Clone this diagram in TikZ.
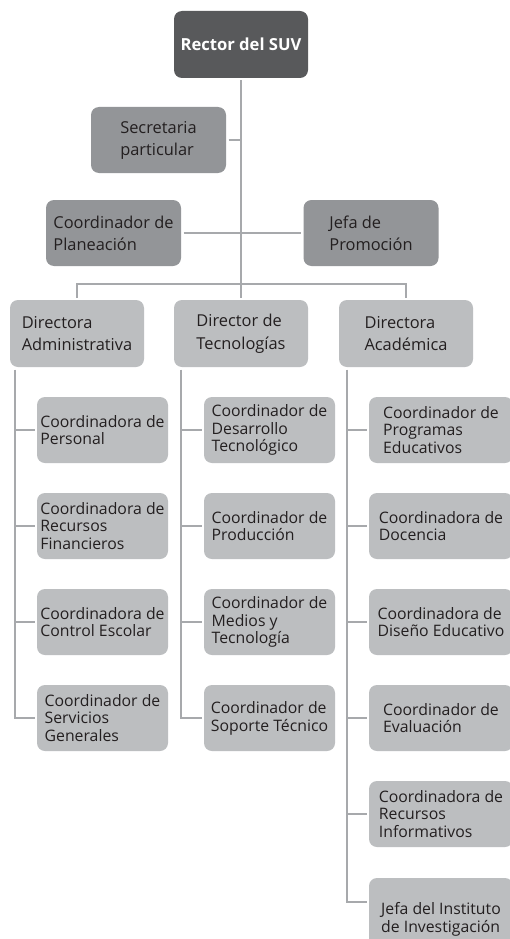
\documentclass[tikz,border=0pt]{standalone}
\usepackage{fontspec}
\setmainfont{Open Sans}
\definecolor{rectorc}{HTML}{58595B}
\definecolor{midc}{HTML}{939598}
\definecolor{lightc}{HTML}{BCBEC0}
\definecolor{linec}{HTML}{A7A9AC}
\definecolor{txtc}{HTML}{231F20}
\begin{document}
\begin{tikzpicture}[x=1pt,y=-1pt,
  box/.style={rounded corners=8pt, inner sep=0pt, outer sep=2.5pt, align=left, text=txtc},
  topbox/.style={box, fill=midc, minimum width=135pt, minimum height=66pt, font=\fontsize{16.4}{22}\selectfont},
  dirbox/.style={box, fill=lightc, minimum width=134pt, minimum height=67pt, font=\fontsize{16.4}{22.5}\selectfont},
  subbox/.style={box, fill=lightc, minimum width=131pt, minimum height=66pt, font=\fontsize{15.8}{17.8}\selectfont},
  acbox/.style={subbox, minimum width=144pt},
  conn/.style={draw=linec, line width=2pt}]
\useasboundingbox (0,0) rectangle (510,939);
\clip (0,0) rectangle (510,939);
\fill[white] (0,0) rectangle (510,939);
% top
\node[box, fill=rectorc, text=white, minimum width=134pt, minimum height=67pt, font=\fontsize{16.6}{19}\selectfont\bfseries] (rector) at (241,44.5) {Rector del SUV};
\node[topbox] (secre) at (158.5,140) {Secretaria\\particular};
\node[topbox] (plan) at (113.5,233) {Coordinador de\\Planeación};
\node[topbox] (promo) at (371,233) {Jefa de\\Promoción};
% directors
\node[dirbox] (adm) at (77,333.5) {Directora\\Administrativa};
\node[dirbox] (tec) at (241,333.5) {Director de\\Tecnologías};
\node[dirbox] (aca) at (406,333.5) {Directora\\Académica};
% admin column
\node[subbox] (a1) at (102.5,430) {Coordinadora de\\Personal};
\node[subbox] (a2) at (102.5,526) {Coordinadora de\\Recursos\\Financieros};
\node[subbox] (a3) at (102.5,622) {Coordinadora de\\Control Escolar};
\node[subbox] (a4) at (102.5,718) {Coordinador de\\Servicios\\Generales};
% tec column
\node[subbox] (t1) at (269.5,430) {Coordinador de\\Desarrollo\\Tecnológico};
\node[subbox] (t2) at (269.5,526) {Coordinador de\\Producción};
\node[subbox] (t3) at (269.5,622) {Coordinador de\\Medios y\\Tecnología};
\node[subbox] (t4) at (269.5,718) {Coordinador de\\Soporte Técnico};
% aca column
\node[acbox] (c1) at (441,430) {Coordinador de\\Programas\\Educativos};
\node[acbox] (c2) at (441,526) {Coordinadora de\\Docencia};
\node[acbox] (c3) at (441,622) {Coordinadora de\\Diseño Educativo};
\node[acbox] (c4) at (441,718) {Coordinador de\\Evaluación};
\node[acbox] (c5) at (441,814) {Coordinadora de\\Recursos\\Informativos};
\node[acbox, minimum height=82pt] (c6) at (441,919) {Jefa del Instituto\\de Investigación};
% connectors top
\coordinate (bar) at (241,284);
\draw[conn] (rector.south) -- (tec.north);
\draw[conn] (secre.east) -- (secre.east -| rector.south);
\draw[conn] (plan.east) -- (promo.west);
\draw[conn] (adm.north) |- (bar) -| (aca.north);
% column spines
\coordinate (sa) at (15,0);
\coordinate (st) at (181,0);
\coordinate (sc) at (347,0);
\coordinate (c6j) at (347,902);
\draw[conn] (sa |- adm.south) |- (a4.west);
\foreach \n in {a1,a2,a3} \draw[conn] (sa |- \n.west) -- (\n.west);
\draw[conn] (st |- tec.south) |- (t4.west);
\foreach \n in {t1,t2,t3} \draw[conn] (st |- \n.west) -- (\n.west);
\draw[conn] (sc |- aca.south) -- (c6j) -- (c6j -| c6.west);
\foreach \n in {c1,c2,c3,c4,c5} \draw[conn] (sc |- \n.west) -- (\n.west);
\end{tikzpicture}
\end{document}
